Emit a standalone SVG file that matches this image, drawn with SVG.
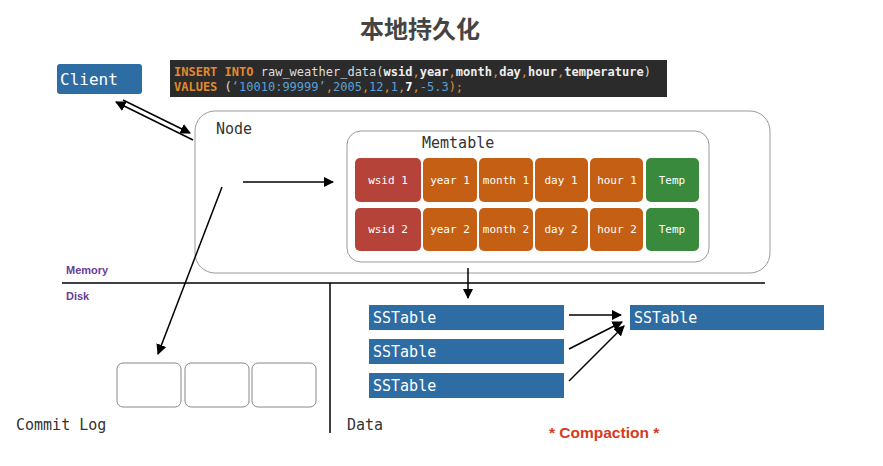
<svg xmlns="http://www.w3.org/2000/svg" width="883" height="466" viewBox="0 0 883 466">
<defs>
<style>
.m{font-family:"DejaVu Sans Mono","Liberation Mono",monospace}
.cell{stroke:none}
.ct{font-family:"DejaVu Sans Mono",monospace;font-size:11px;fill:#fff;text-anchor:middle}
.ln{stroke:#000;stroke-width:1.5;fill:none}
.sst{fill:#2e6da4}
.st{font-family:"DejaVu Sans Mono",monospace;font-size:15px;fill:#fff}
.lab{font-family:"DejaVu Sans Mono",monospace;font-size:15px;fill:#333}
</style>
<marker id="a" viewBox="0 0 10 10" refX="9" refY="5" markerWidth="7" markerHeight="7" orient="auto-start-reverse"><path d="M0,0L10,5L0,10z" fill="#000"/></marker>
</defs>
<rect width="883" height="466" fill="#fff"/>
<text x="420" y="38" font-family="Noto Sans CJK SC,sans-serif" font-size="24" font-weight="bold" fill="#444" text-anchor="middle">本地持久化</text>
<g id="client"><rect x="57" y="64" width="85" height="30" rx="3" fill="#2e6da4"/><text x="60" y="85" class="m" font-size="16" fill="#fff">Client</text></g>
<g id="sql"><rect x="170" y="60" width="497" height="37" fill="#2b2b2b"/>
<text x="174" y="76" class="m" font-size="12" xml:space="preserve"><tspan fill="#e08a2e" font-weight="bold">INSERT INTO</tspan><tspan fill="#ddd"> raw_weather_data(</tspan><tspan fill="#eee" font-weight="bold">wsid</tspan><tspan fill="#e08a2e">,</tspan><tspan fill="#eee" font-weight="bold">year</tspan><tspan fill="#e08a2e">,</tspan><tspan fill="#eee" font-weight="bold">month</tspan><tspan fill="#e08a2e">,</tspan><tspan fill="#eee" font-weight="bold">day</tspan><tspan fill="#e08a2e">,</tspan><tspan fill="#eee" font-weight="bold">hour</tspan><tspan fill="#e08a2e">,</tspan><tspan fill="#eee" font-weight="bold">temperature</tspan><tspan fill="#ddd">)</tspan></text>
<text x="174" y="91" class="m" font-size="12" xml:space="preserve"><tspan fill="#e08a2e" font-weight="bold">VALUES</tspan><tspan fill="#ddd"> (</tspan><tspan fill="#5aa0d8">‘10010:99999’</tspan><tspan fill="#e08a2e">,</tspan><tspan fill="#5aa0d8">2005</tspan><tspan fill="#e08a2e">,</tspan><tspan fill="#5aa0d8">12</tspan><tspan fill="#e08a2e">,</tspan><tspan fill="#5aa0d8">1</tspan><tspan fill="#e08a2e">,</tspan><tspan fill="#fff" font-weight="bold">7</tspan><tspan fill="#e08a2e">,</tspan><tspan fill="#5aa0d8">-5.3</tspan><tspan fill="#e08a2e">);</tspan></text></g>
<g id="node"><rect x="195" y="111" width="575" height="162" rx="20" fill="none" stroke="#999"/><text x="216" y="134" class="lab">Node</text></g>
<g id="memtable"><rect x="347" y="131" width="362" height="131" rx="14" fill="#fff" stroke="#999"/><text x="422" y="148" class="lab">Memtable</text>
<rect class="cell" x="355" y="158" width="66" height="44" rx="5" fill="#b5433a"/><text class="ct" x="388" y="184">wsid 1</text>
<rect class="cell" x="423" y="158" width="54" height="44" rx="5" fill="#c55f13"/><text class="ct" x="450" y="184">year 1</text>
<rect class="cell" x="479" y="158" width="54" height="44" rx="5" fill="#c55f13"/><text class="ct" x="506" y="184">month 1</text>
<rect class="cell" x="535" y="158" width="53" height="44" rx="5" fill="#c55f13"/><text class="ct" x="561" y="184">day 1</text>
<rect class="cell" x="590" y="158" width="53" height="44" rx="5" fill="#c55f13"/><text class="ct" x="617" y="184">hour 1</text>
<rect class="cell" x="646" y="158" width="53" height="44" rx="5" fill="#3a8a3e"/><text class="ct" x="672" y="184">Temp</text>
<rect class="cell" x="355" y="208" width="66" height="43" rx="5" fill="#b5433a"/><text class="ct" x="388" y="233">wsid 2</text>
<rect class="cell" x="423" y="208" width="54" height="43" rx="5" fill="#c55f13"/><text class="ct" x="450" y="233">year 2</text>
<rect class="cell" x="479" y="208" width="54" height="43" rx="5" fill="#c55f13"/><text class="ct" x="506" y="233">month 2</text>
<rect class="cell" x="535" y="208" width="53" height="43" rx="5" fill="#c55f13"/><text class="ct" x="561" y="233">day 2</text>
<rect class="cell" x="590" y="208" width="53" height="43" rx="5" fill="#c55f13"/><text class="ct" x="617" y="233">hour 2</text>
<rect class="cell" x="646" y="208" width="53" height="43" rx="5" fill="#3a8a3e"/><text class="ct" x="672" y="233">Temp</text></g>
<g id="divider"><line x1="62" y1="283" x2="765" y2="283" stroke="#000" stroke-width="1.5"/><line x1="330" y1="283" x2="330" y2="433" stroke="#000" stroke-width="1.5"/>
<text x="66" y="274" font-family="Liberation Sans,sans-serif" font-size="11" font-weight="bold" fill="#6a3d9a">Memory</text>
<text x="66" y="300" font-family="Liberation Sans,sans-serif" font-size="11" font-weight="bold" fill="#6a3d9a">Disk</text></g>
<g id="commitlog"><rect x="117" y="363" width="64" height="44" rx="6" fill="#fff" stroke="#888"/><rect x="185" y="363" width="64" height="44" rx="6" fill="#fff" stroke="#888"/><rect x="252" y="363" width="64" height="44" rx="6" fill="#fff" stroke="#888"/><text x="16" y="430" class="lab">Commit Log</text></g>
<text x="347" y="430" class="lab">Data</text>
<g id="sstables">
<rect class="sst" x="369" y="305" width="195" height="25"/><text class="st" x="373" y="323">SSTable</text>
<rect class="sst" x="369" y="339" width="195" height="25"/><text class="st" x="373" y="357">SSTable</text>
<rect class="sst" x="369" y="373" width="195" height="25"/><text class="st" x="373" y="391">SSTable</text>
<rect class="sst" x="630" y="305" width="194" height="25"/><text class="st" x="634" y="323">SSTable</text></g>
<text x="549" y="438" font-family="Liberation Sans,sans-serif" font-size="15.5" font-weight="bold" fill="#d63a1a">* Compaction *</text>
<g id="connectors">
<line class="ln" x1="193" y1="140" x2="116" y2="102" marker-end="url(#a)"/>
<line class="ln" x1="123" y1="100" x2="190" y2="133" marker-end="url(#a)"/>
<line class="ln" x1="243" y1="182" x2="333" y2="182" marker-end="url(#a)"/>
<line class="ln" x1="222" y1="187" x2="158" y2="354" marker-end="url(#a)"/>
<line class="ln" x1="468" y1="268" x2="468" y2="298" marker-end="url(#a)"/>
<line class="ln" x1="569" y1="315" x2="621" y2="315" marker-end="url(#a)"/>
<line class="ln" x1="569" y1="349" x2="622" y2="322" marker-end="url(#a)"/>
<line class="ln" x1="569" y1="381" x2="624" y2="326" marker-end="url(#a)"/>
</g>
</svg>
